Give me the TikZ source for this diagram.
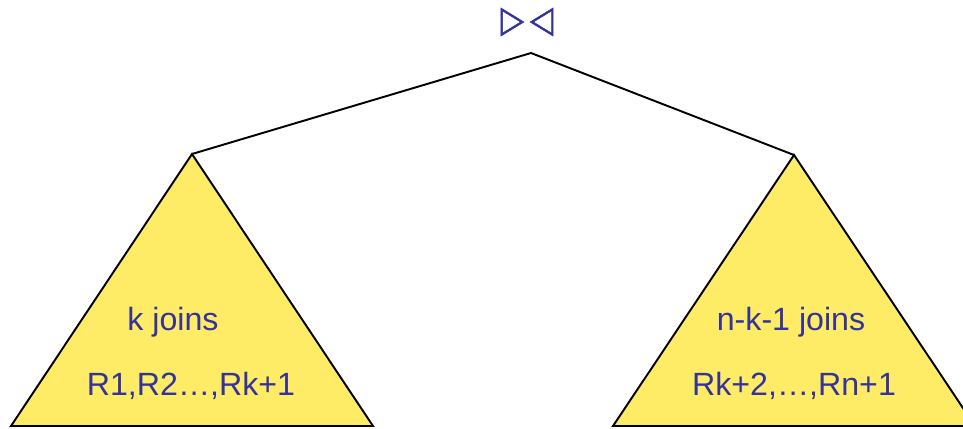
\documentclass[tikz,border=0pt]{standalone}
\usepackage{fontspec}
\setmainfont{Liberation Sans}
\newfontfamily\opfont[FakeBold=1.5]{DejaVu Sans}
\usepackage{tikz}
\definecolor{joinblue}{RGB}{51,51,153}
\definecolor{subyellow}{RGB}{255,236,102}

\begin{document}
\begin{tikzpicture}[line width=1.1pt,
  subtree/.style={fill=subyellow,draw=black,line join=miter},
  lbl/.style={text=joinblue,inner sep=1pt,font=\fontsize{18.3}{22}\selectfont}]
\useasboundingbox (0,0) rectangle (19.26,-8.56);
\clip (0,0) rectangle (19.26,-8.56);
\coordinate (top) at (10.62,-1.06);
\coordinate (ltop) at (3.84,-3.08);
\coordinate (rtop) at (15.88,-3.10);
% the two subtrees
\draw[subtree] (ltop)--(0.22,-8.52)--(7.46,-8.52)--cycle;
\draw[subtree] (rtop)--(12.26,-8.52)--(19.50,-8.52)--cycle;
\draw (ltop)--(top)--(rtop);
\node[text=joinblue,inner sep=0pt,font=\opfont\fontsize{21}{21}\selectfont] (op) at (10.54,-0.44)
  {\scalebox{0.82}[1]{▷}\hspace{3.4pt}\scalebox{0.82}[1]{◁}};
\node[lbl] (lk) at (3.46,-6.44) {k joins};
\node[lbl] (lr) at (3.82,-7.72) {R1,R2…,Rk+1};
\node[lbl] (rk) at (15.82,-6.44) {n-k-1 joins};
\node[lbl] (rr) at (15.88,-7.72) {Rk+2,…,Rn+1};
\end{tikzpicture}
\end{document}
